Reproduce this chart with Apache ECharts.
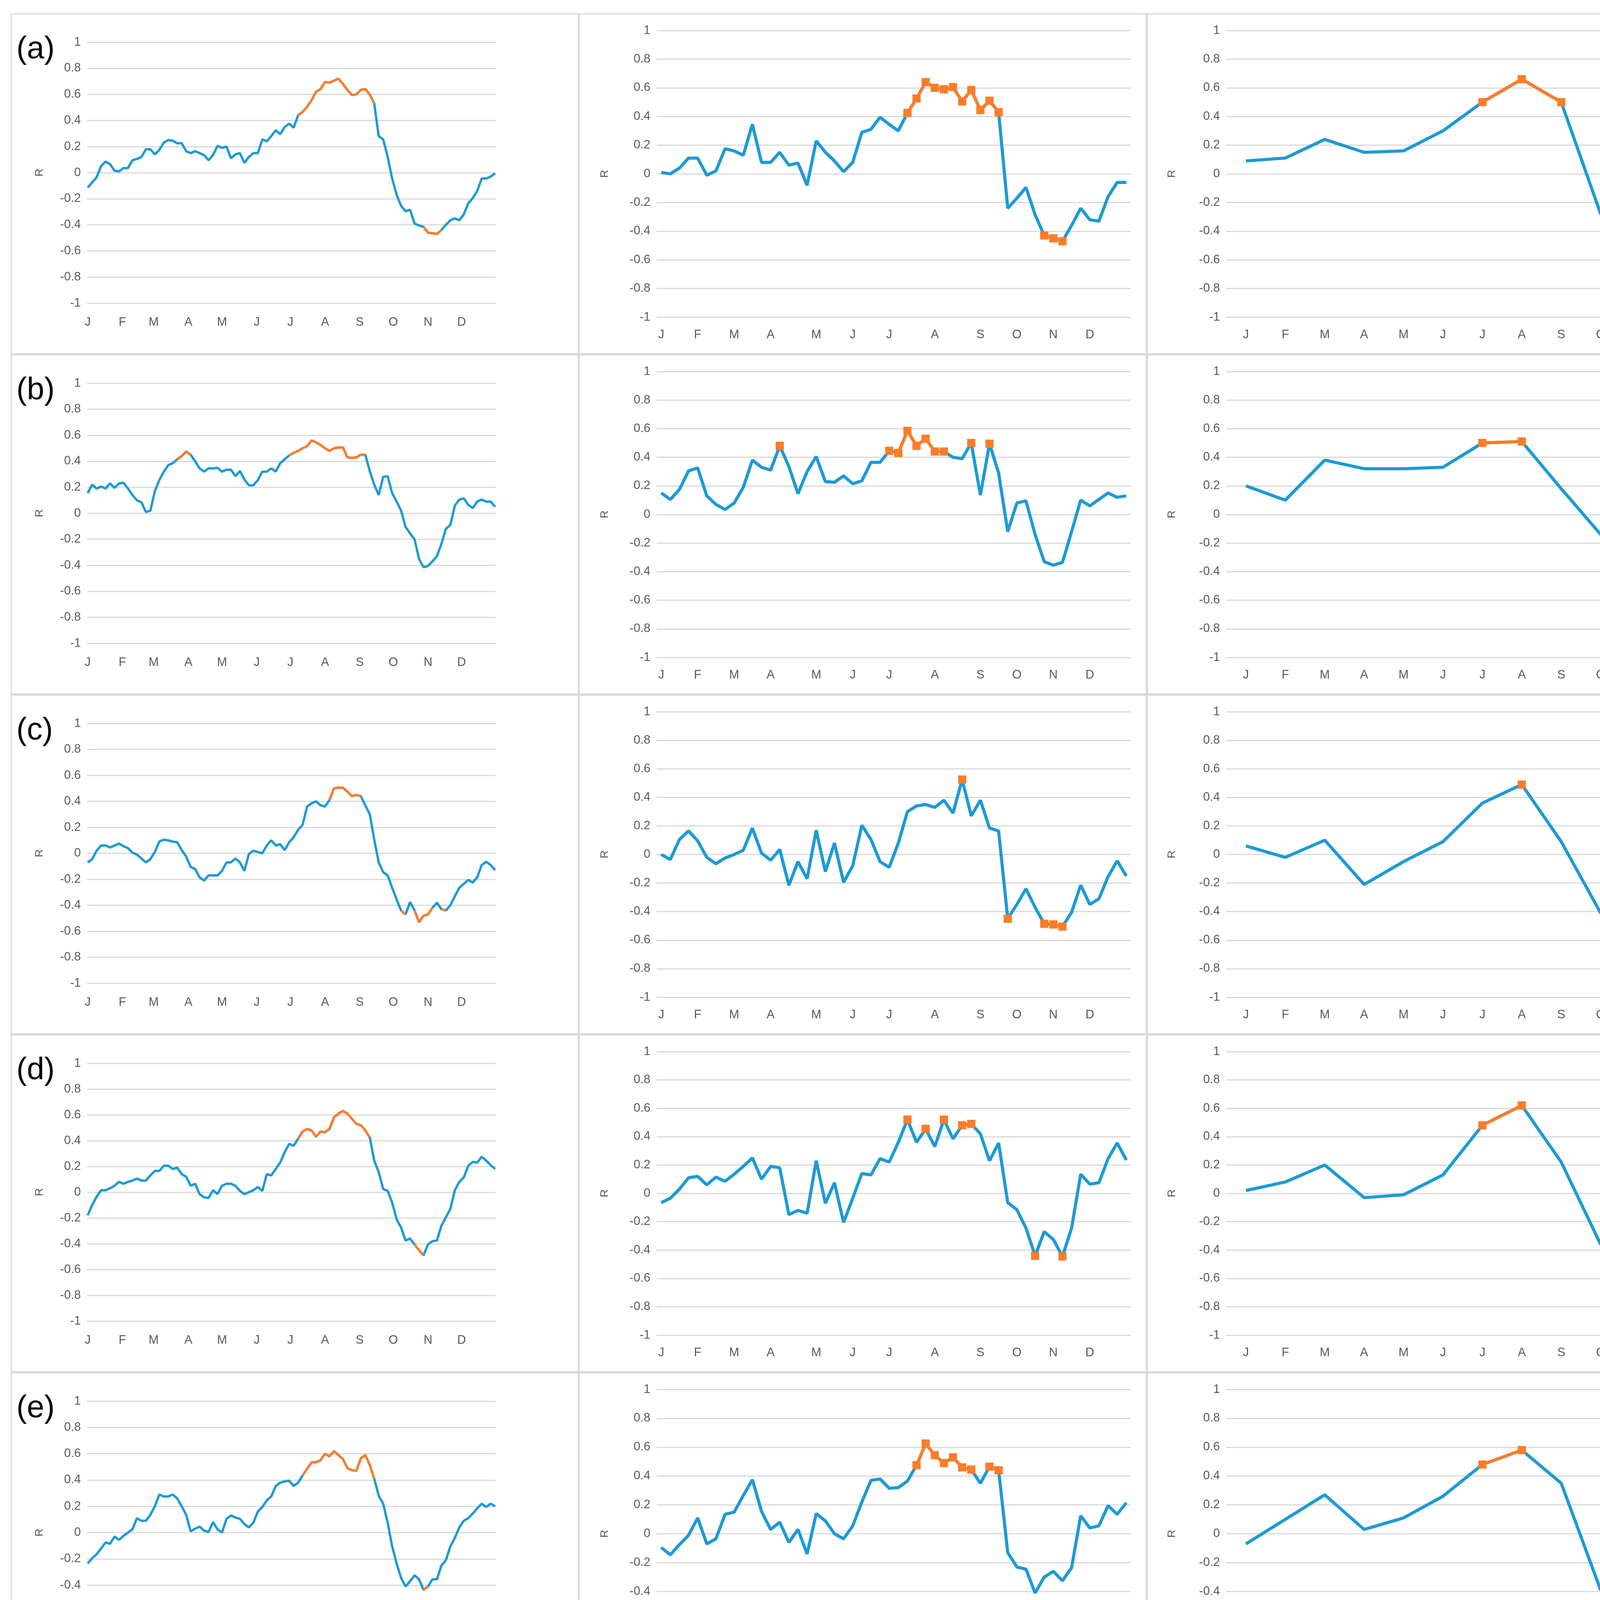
<!DOCTYPE html>
<html>
<head>
<meta charset="utf-8">
<script src="https://cdn.jsdelivr.net/npm/echarts@6/dist/echarts.min.js"></script>
<style>
  html, body { margin: 0; padding: 0; background: #ffffff; }
  body { width: 4408px; height: 5302px; position: relative; overflow: hidden; }
  .p { position: absolute; box-sizing: border-box; border: 3px solid #d9d9d9; background: #fff; }
</style>
</head>
<body>
<script>
// ---------------- labels ----------------
const rowLabels = ['(a)', '(b)', '(c)', '(d)', '(e)', '(f)'];
const monthLetters = ['J', 'F', 'M', 'A', 'M', 'J', 'J', 'A', 'S', 'O', 'N', 'D'];
const monthStartDays = [0, 31, 59, 90, 120, 151, 181, 212, 243, 273, 304, 334];
const weekLabelIdx = [0, 4, 8, 12, 17, 21, 25, 30, 35, 39, 43, 47];
const yTickMin = -1, yTickMax = 1, yTickStep = 0.2;
const dailyStep = 4; // daily values read every 4th day (day 0 .. 364)

// ---------------- daily series (sampled every 4 days) ----------------
const dailyA = [-0.115,-0.075,-0.035,0.05,0.085,0.065,0.015,0.01,0.035,0.035,
  0.095,0.105,0.12,0.18,0.18,0.14,0.175,0.23,0.25,0.245,
  0.225,0.225,0.165,0.15,0.165,0.15,0.135,0.095,0.135,0.205,
  0.19,0.20,0.11,0.14,0.15,0.075,0.12,0.15,0.15,0.255,
  0.24,0.28,0.325,0.295,0.35,0.375,0.345,0.44,0.465,0.505,
  0.555,0.62,0.64,0.695,0.69,0.705,0.72,0.68,0.635,0.595,
  0.60,0.635,0.64,0.60,0.53,0.28,0.255,0.12,-0.045,-0.17,
  -0.255,-0.295,-0.285,-0.39,-0.405,-0.415,-0.46,-0.465,-0.47,-0.44,
  -0.40,-0.365,-0.35,-0.365,-0.32,-0.235,-0.195,-0.14,-0.045,-0.045,
  -0.03,-0.005];
const dailySigA = [[47, 64], [75, 79]];

const dailyB = [0.155,0.22,0.19,0.205,0.19,0.23,0.195,0.23,0.235,0.19,
  0.14,0.10,0.085,0.01,0.02,0.17,0.255,0.32,0.37,0.385,
  0.415,0.44,0.475,0.45,0.40,0.345,0.32,0.345,0.345,0.35,
  0.32,0.335,0.335,0.285,0.325,0.26,0.215,0.215,0.255,0.32,
  0.32,0.345,0.32,0.385,0.415,0.445,0.465,0.48,0.50,0.515,
  0.56,0.545,0.525,0.50,0.48,0.50,0.505,0.505,0.43,0.425,
  0.43,0.45,0.45,0.325,0.22,0.14,0.28,0.285,0.155,0.09,
  0.02,-0.105,-0.155,-0.20,-0.35,-0.415,-0.405,-0.37,-0.33,-0.235,
  -0.12,-0.09,0.06,0.105,0.115,0.065,0.04,0.09,0.105,0.09,
  0.09,0.05];
const dailySigB = [[20, 23], [45, 62]];

const dailyC = [-0.07,-0.045,0.02,0.06,0.06,0.045,0.06,0.075,0.055,0.04,
  0.005,-0.01,-0.04,-0.07,-0.045,0.01,0.09,0.105,0.10,0.09,
  0.085,0.025,-0.025,-0.105,-0.12,-0.185,-0.21,-0.17,-0.17,-0.17,
  -0.135,-0.07,-0.07,-0.04,-0.07,-0.135,-0.005,0.02,0.01,0.0,
  0.06,0.10,0.06,0.07,0.025,0.085,0.125,0.18,0.22,0.36,
  0.385,0.40,0.37,0.36,0.41,0.50,0.505,0.505,0.475,0.44,
  0.45,0.44,0.37,0.30,0.105,-0.07,-0.145,-0.17,-0.265,-0.355,
  -0.44,-0.47,-0.375,-0.44,-0.53,-0.48,-0.47,-0.42,-0.38,-0.43,
  -0.44,-0.40,-0.33,-0.265,-0.235,-0.205,-0.225,-0.185,-0.09,-0.065,
  -0.09,-0.13];
const dailySigC = [[54, 61], [70, 71], [73, 77], [79, 80]];

const dailyD = [-0.18,-0.10,-0.035,0.015,0.015,0.03,0.05,0.08,0.065,0.08,
  0.09,0.105,0.09,0.09,0.13,0.165,0.165,0.205,0.205,0.18,
  0.19,0.14,0.12,0.05,0.065,-0.015,-0.04,-0.045,0.015,-0.015,
  0.05,0.065,0.065,0.05,0.01,-0.015,0.0,0.015,0.04,0.01,
  0.14,0.13,0.18,0.23,0.31,0.375,0.36,0.415,0.47,0.49,
  0.48,0.43,0.47,0.465,0.49,0.58,0.61,0.63,0.61,0.57,
  0.53,0.52,0.48,0.425,0.245,0.155,0.025,0.01,-0.08,-0.21,
  -0.275,-0.375,-0.36,-0.405,-0.45,-0.49,-0.405,-0.38,-0.375,-0.26,
  -0.195,-0.13,0.015,0.08,0.115,0.205,0.235,0.23,0.275,0.245,
  0.21,0.18];
const dailySigD = [[47, 63], [73, 75]];

const dailyE = [-0.235,-0.195,-0.165,-0.12,-0.075,-0.085,-0.03,-0.055,-0.025,0.0,
  0.025,0.11,0.09,0.09,0.135,0.20,0.29,0.275,0.275,0.29,
  0.26,0.20,0.135,0.01,0.03,0.045,0.015,0.005,0.08,0.025,
  0.0,0.105,0.13,0.115,0.105,0.065,0.04,0.075,0.16,0.195,
  0.245,0.275,0.355,0.38,0.39,0.395,0.355,0.38,0.435,0.485,
  0.535,0.535,0.55,0.60,0.58,0.62,0.59,0.56,0.49,0.475,
  0.47,0.565,0.59,0.515,0.41,0.28,0.22,0.075,-0.105,-0.235,
  -0.345,-0.41,-0.37,-0.325,-0.355,-0.435,-0.41,-0.355,-0.355,-0.25,
  -0.21,-0.105,-0.04,0.04,0.09,0.11,0.145,0.185,0.22,0.195,
  0.22,0.20];
const dailySigE = [[48, 64], [75, 76]];

const dailyF = [0.095,0.075,0.10,0.07,0.115,0.14,0.125,0.095,0.065,0.085,
  0.095,0.045,0.02,0.055,0.11,0.155,0.185,0.14,0.18,0.135,
  0.095,0.165,0.205,0.165,0.22,0.26,0.24,0.30,0.375,0.35,
  0.335,0.335,0.27,0.255,0.215,0.20,0.14,0.155,0.175,0.23,
  0.28,0.295,0.35,0.335,0.40,0.385,0.405,0.43,0.465,0.525,
  0.55,0.625,0.67,0.695,0.68,0.695,0.705,0.67,0.64,0.59,
  0.565,0.655,0.68,0.69,0.68,0.565,0.405,0.385,0.22,0.14,
  0.03,-0.085,-0.17,-0.275,-0.36,-0.38,-0.395,-0.415,-0.42,-0.405,
  -0.38,-0.355,-0.335,-0.365,-0.395,-0.37,-0.285,-0.29,-0.165,-0.10,
  -0.03,0.025];
const dailySigF = [[47, 66], [77, 78]];

// ---------------- weekly series (52 weeks) ----------------
const weeklyA = [0.01,0.0,0.04,0.11,0.11,-0.01,0.02,0.175,0.16,0.13,
  0.345,0.08,0.08,0.15,0.06,0.075,-0.08,0.23,0.15,0.09,
  0.015,0.08,0.29,0.31,0.395,0.345,0.30,0.425,0.525,0.64,
  0.60,0.59,0.605,0.505,0.585,0.445,0.51,0.43,-0.24,-0.17,
  -0.095,-0.285,-0.43,-0.45,-0.47,-0.36,-0.24,-0.32,-0.33,-0.16,
  -0.06,-0.06];
const weeklySigA = [27,28,29,30,31,32,33,34,35,36,37,42,43,44];

const weeklyB = [0.15,0.105,0.175,0.305,0.325,0.13,0.07,0.035,0.08,0.19,
  0.38,0.33,0.31,0.48,0.335,0.145,0.30,0.405,0.23,0.225,
  0.27,0.215,0.235,0.365,0.365,0.445,0.43,0.585,0.48,0.53,
  0.44,0.44,0.40,0.39,0.50,0.135,0.495,0.29,-0.12,0.08,
  0.095,-0.14,-0.33,-0.355,-0.335,-0.12,0.10,0.06,0.105,0.15,
  0.12,0.13];
const weeklySigB = [13,25,26,27,28,29,30,31,34,36];

const weeklyC = [0.0,-0.035,0.105,0.165,0.095,-0.02,-0.065,-0.025,0.0,0.03,
  0.185,0.01,-0.04,0.035,-0.215,-0.05,-0.17,0.17,-0.12,0.08,
  -0.195,-0.08,0.205,0.105,-0.05,-0.09,0.08,0.30,0.34,0.35,
  0.33,0.38,0.29,0.525,0.27,0.38,0.185,0.165,-0.45,-0.35,
  -0.24,-0.37,-0.485,-0.49,-0.505,-0.405,-0.215,-0.35,-0.31,-0.155,
  -0.045,-0.15];
const weeklySigC = [33,38,42,43,44];

const weeklyD = [-0.065,-0.035,0.03,0.11,0.12,0.06,0.115,0.085,0.135,0.19,
  0.25,0.10,0.19,0.18,-0.15,-0.12,-0.14,0.23,-0.07,0.075,
  -0.205,-0.035,0.14,0.13,0.245,0.22,0.36,0.52,0.36,0.455,
  0.33,0.52,0.385,0.48,0.49,0.42,0.23,0.355,-0.065,-0.115,
  -0.245,-0.44,-0.27,-0.325,-0.445,-0.245,0.135,0.065,0.075,0.245,
  0.355,0.235];
const weeklySigD = [27,29,31,33,34,41,44];

const weeklyE = [-0.095,-0.145,-0.075,-0.01,0.11,-0.07,-0.035,0.135,0.15,0.265,
  0.375,0.155,0.03,0.08,-0.06,0.03,-0.14,0.14,0.09,0.0,
  -0.035,0.055,0.22,0.37,0.38,0.315,0.32,0.365,0.475,0.625,
  0.545,0.49,0.53,0.46,0.445,0.35,0.465,0.44,-0.13,-0.23,
  -0.245,-0.41,-0.30,-0.26,-0.325,-0.235,0.125,0.04,0.055,0.195,
  0.135,0.215];
const weeklySigE = [28,29,30,31,32,33,34,36,37];

const weeklyF = [0.115,0.115,0.125,0.155,0.15,-0.005,-0.075,0.135,0.06,0.13,
  0.35,-0.035,0.125,0.215,0.245,0.22,0.12,0.245,0.24,0.11,
  0.03,0.175,0.285,0.25,0.435,0.415,0.345,0.38,0.51,0.655,
  0.555,0.66,0.595,0.525,0.605,0.515,0.625,0.62,-0.055,0.025,
  0.205,-0.15,-0.40,-0.455,-0.40,-0.315,-0.31,-0.36,-0.46,-0.285,
  -0.175,0.035];
const weeklySigF = [24,28,29,30,31,32,33,34,35,36,37,43,48];

// ---------------- monthly series (12 months) ----------------
const monthlyA = [0.09,0.11,0.24,0.15,0.16,0.30,0.50,0.66,0.50,-0.28,-0.43,-0.12];
const monthlySigA = [6,7,8,10];
const monthlyB = [0.20,0.10,0.38,0.32,0.32,0.33,0.50,0.51,0.18,-0.14,-0.15,0.04];
const monthlySigB = [6,7];
const monthlyC = [0.06,-0.02,0.10,-0.21,-0.05,0.09,0.36,0.49,0.09,-0.41,-0.44,-0.19];
const monthlySigC = [7,10];
const monthlyD = [0.02,0.08,0.20,-0.03,-0.01,0.13,0.48,0.62,0.22,-0.36,-0.20,0.23];
const monthlySigD = [6,7];
const monthlyE = [-0.07,0.10,0.27,0.03,0.11,0.26,0.48,0.58,0.35,-0.39,-0.20,0.19];
const monthlySigE = [6,7];
const monthlyF = [0.09,0.05,0.18,0.24,0.24,0.32,0.50,0.70,0.62,-0.14,-0.39,-0.30];
const monthlySigF = [6,7,8];

// ---------------- layout / style ----------------
const BLUE = '#1c9ad6';
const ORANGE = '#fb7d29';
const GRID_C = '#d9d9d9';
const TXT = '#595959';
const FONT = '"Liberation Sans Narrow", "Liberation Sans", Arial, sans-serif';

const rowTops = [34, 907, 1778, 2648, 3513, 4391, 5272];
const colX = [27, 1481, 2936];
const colW = 1455;

const dailyAll = [dailyA, dailyB, dailyC, dailyD, dailyE, dailyF];
const dailySigAll = [dailySigA, dailySigB, dailySigC, dailySigD, dailySigE, dailySigF];
const weeklyAll = [weeklyA, weeklyB, weeklyC, weeklyD, weeklyE, weeklyF];
const weeklySigAll = [weeklySigA, weeklySigB, weeklySigC, weeklySigD, weeklySigE, weeklySigF];
const monthlyAll = [monthlyA, monthlyB, monthlyC, monthlyD, monthlyE, monthlyF];
const monthlySigAll = [monthlySigA, monthlySigB, monthlySigC, monthlySigD, monthlySigE, monthlySigF];

function makeDiv(x, y, w, h) {
  const d = document.createElement('div');
  d.className = 'p';
  d.style.left = x + 'px'; d.style.top = y + 'px';
  d.style.width = w + 'px'; d.style.height = h + 'px';
  document.body.appendChild(d);
  return d;
}

function range(n) { return Array.from({ length: n }, (_, i) => String(i)); }

function yAxisOpt(nameGap) {
  return {
    type: 'value', min: yTickMin, max: yTickMax, interval: yTickStep,
    name: 'R', nameLocation: 'middle', nameGap: nameGap,
    nameTextStyle: { color: TXT, fontSize: 28, fontFamily: FONT },
    axisLine: { show: false }, axisTick: { show: false },
    axisLabel: { color: TXT, fontSize: 31, fontFamily: FONT, margin: 16 },
    splitLine: { lineStyle: { color: GRID_C, width: 3 } }
  };
}

function xAxisOpt(n, intervalFn, fmt, margin) {
  return {
    type: 'category', boundaryGap: true, data: range(n),
    axisLine: { show: false }, axisTick: { show: false },
    axisLabel: { interval: intervalFn, formatter: fmt, color: TXT, fontSize: 31, fontFamily: FONT, margin: margin }
  };
}

function dailyChart(r) {
  const top = rowTops[r], h = rowTops[r + 1] - top;
  const div = makeDiv(colX[0], top, colW, h);
  const ch = echarts.init(div, null, { width: colW - 6, height: h - 6 });
  const vals = dailyAll[r];
  const full = new Array(365).fill(null);
  vals.forEach((v, i) => { full[i * dailyStep] = v; });
  const series = [{
    type: 'line', data: full, connectNulls: true, showSymbol: false,
    lineStyle: { color: BLUE, width: 6 }, itemStyle: { color: BLUE }, z: 2
  }];
  dailySigAll[r].forEach(([s, e]) => {
    const arr = new Array(365).fill(null);
    for (let i = s; i <= e; i++) arr[i * dailyStep] = vals[i];
    series.push({
      type: 'line', data: arr, connectNulls: true, showSymbol: false,
      lineStyle: { color: ORANGE, width: 6 }, itemStyle: { color: ORANGE }, z: 3
    });
  });
  ch.setOption({
    animation: false,
    grid: { left: 193, right: 210, top: 71, bottom: 128 },
    xAxis: xAxisOpt(365, (idx) => monthStartDays.indexOf(idx) >= 0,
      (v) => { const k = monthStartDays.indexOf(+v); return k >= 0 ? monthLetters[k] : ''; }, 34),
    yAxis: yAxisOpt(108),
    graphic: [{
      type: 'text', left: 12, top: 50,
      style: { text: rowLabels[r], fill: '#000', font: '80px "Liberation Sans", Arial, sans-serif' }
    }],
    series: series
  });
}

function sigChart(col, r, n, vals, sig, intervalFn, fmt, gridLeft, nameGap) {
  const top = rowTops[r], h = rowTops[r + 1] - top;
  const div = makeDiv(colX[col], top, colW, h);
  const ch = echarts.init(div, null, { width: colW - 6, height: h - 6 });
  const orange = vals.map((v, i) => sig.indexOf(i) >= 0 ? v : null);
  ch.setOption({
    animation: false,
    grid: { left: gridLeft, right: 38, top: 41, bottom: 92 },
    xAxis: xAxisOpt(n, intervalFn, fmt, 30),
    yAxis: yAxisOpt(nameGap),
    series: [{
      type: 'line', data: vals, showSymbol: false,
      lineStyle: { color: BLUE, width: 8 }, itemStyle: { color: BLUE }, z: 2
    }, {
      type: 'line', data: orange, connectNulls: false, showSymbol: true, showAllSymbol: true,
      symbol: 'rect', symbolSize: 21,
      lineStyle: { color: ORANGE, width: 8 }, itemStyle: { color: ORANGE }, z: 3
    }]
  });
}

for (let r = 0; r < 6; r++) {
  dailyChart(r);
  sigChart(1, r, 52, weeklyAll[r], weeklySigAll[r],
    (idx) => weekLabelIdx.indexOf(idx) >= 0,
    (v) => { const k = weekLabelIdx.indexOf(+v); return k >= 0 ? monthLetters[k] : ''; }, 197, 119);
  sigChart(2, r, 12, monthlyAll[r], monthlySigAll[r],
    0, (v) => monthLetters[+v], 200, 125);
}
</script>
</body>
</html>
